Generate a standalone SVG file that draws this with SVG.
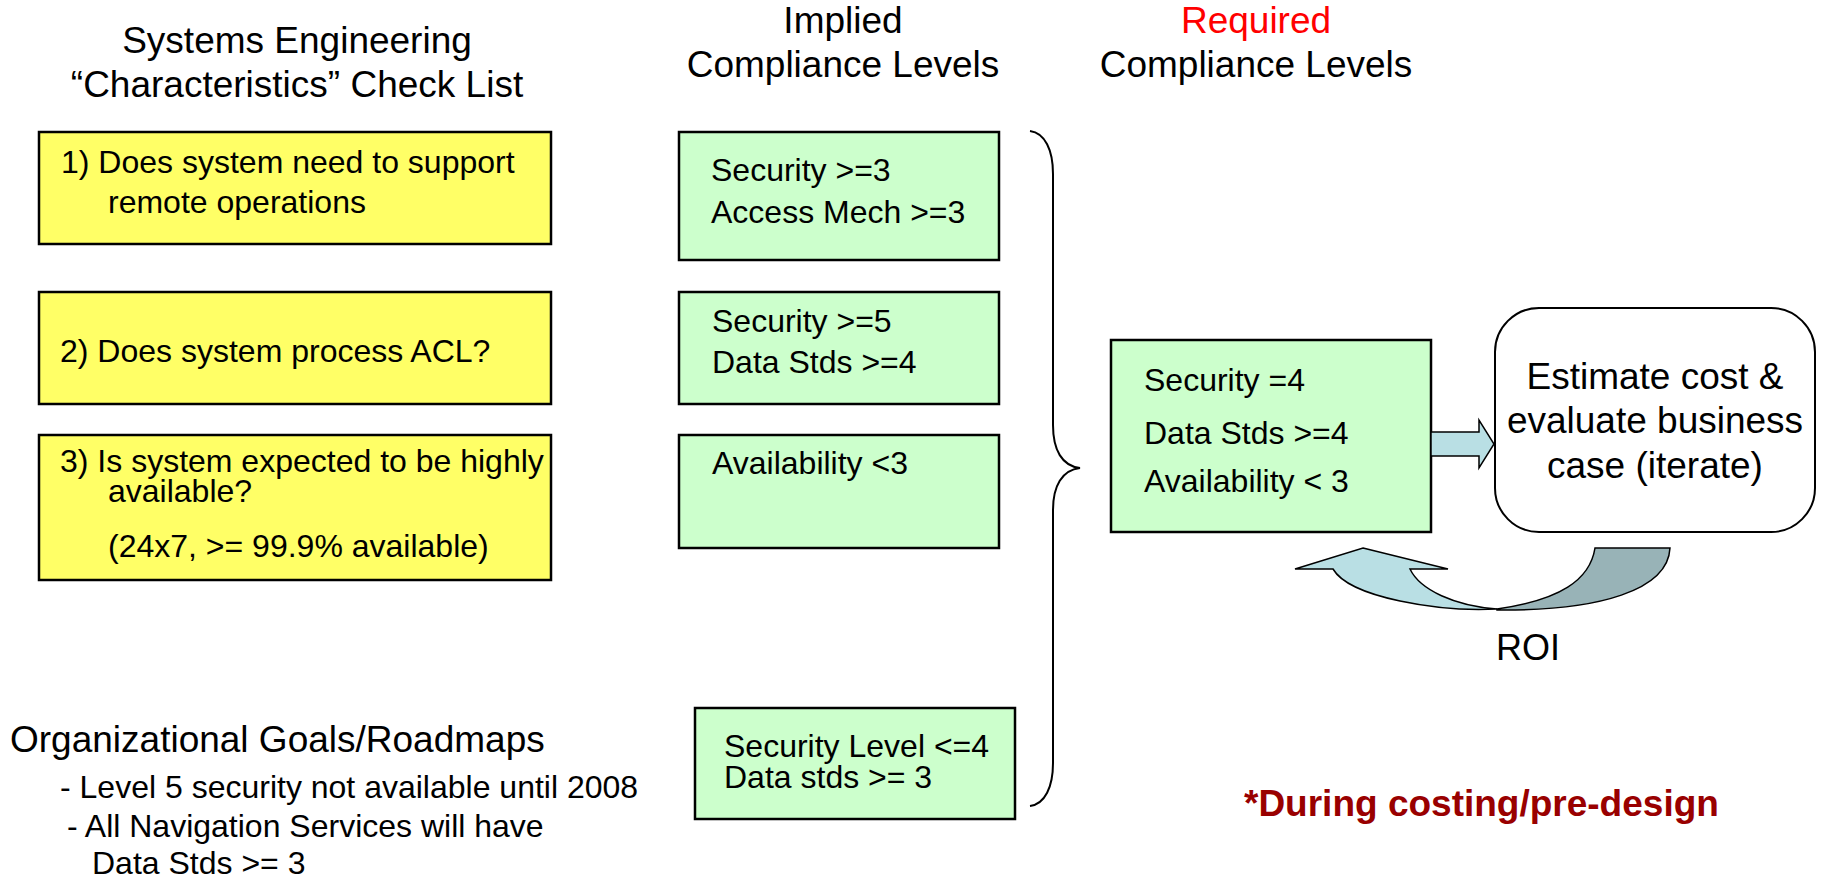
<svg xmlns="http://www.w3.org/2000/svg" width="1826" height="880" viewBox="0 0 1826 880">
<style>
text{font-family:"Liberation Sans",Arial,sans-serif;fill:#000}
.t37{font-size:37px}
.t32{font-size:32px}
.mid{text-anchor:middle}
.yel{fill:#ffff66;stroke:#000;stroke-width:2.5}
.grn{fill:#ccffcc;stroke:#000;stroke-width:2.5}
.line{fill:none;stroke:#000;stroke-width:2}
</style>
<rect width="1826" height="880" fill="#fff"/>
<g id="titles">
<text class="t37 mid" x="297" y="53">Systems Engineering</text>
<text class="t37 mid" x="297" y="97">“Characteristics” Check List</text>
<text class="t37 mid" x="843" y="33">Implied</text>
<text class="t37 mid" x="843" y="77">Compliance Levels</text>
<text class="t37 mid" x="1256" y="33" style="fill:#ff0000">Required</text>
<text class="t37 mid" x="1256" y="77">Compliance Levels</text>
</g>
<g id="q1">
<rect class="yel" x="39" y="132" width="512" height="112"/>
<text class="t32" x="61" y="173">1) Does system need to support</text>
<text class="t32" x="108" y="213">remote operations</text>
</g>
<g id="q2">
<rect class="yel" x="39" y="292" width="512" height="112"/>
<text class="t32" x="60" y="362">2) Does system process ACL?</text>
</g>
<g id="q3">
<rect class="yel" x="39" y="435" width="512" height="145"/>
<text class="t32" x="60" y="472">3) Is system expected to be highly</text>
<text class="t32" x="108" y="502">available?</text>
<text class="t32" x="108" y="557">(24x7, &gt;= 99.9% available)</text>
</g>
<g id="imp1">
<rect class="grn" x="679" y="132" width="320" height="128"/>
<text class="t32" x="711" y="181">Security &gt;=3</text>
<text class="t32" x="711" y="223">Access Mech &gt;=3</text>
</g>
<g id="imp2">
<rect class="grn" x="679" y="292" width="320" height="112"/>
<text class="t32" x="712" y="332">Security &gt;=5</text>
<text class="t32" x="712" y="373">Data Stds &gt;=4</text>
</g>
<g id="imp3">
<rect class="grn" x="679" y="435" width="320" height="113"/>
<text class="t32" x="712" y="474">Availability &lt;3</text>
</g>
<g id="imp4">
<rect class="grn" x="695" y="708" width="320" height="111"/>
<text class="t32" x="724" y="757">Security Level &lt;=4</text>
<text class="t32" x="724" y="788">Data stds &gt;= 3</text>
</g>
<g id="goals">
<text class="t37" x="10" y="752">Organizational Goals/Roadmaps</text>
<text class="t32" x="60" y="798">- Level 5 security not available until 2008</text>
<text class="t32" x="67" y="837">- All Navigation Services will have</text>
<text class="t32" x="92" y="874">Data Stds &gt;= 3</text>
</g>
<g id="required">
<rect class="grn" x="1111" y="340" width="320" height="192"/>
<text class="t32" x="1144" y="391">Security =4</text>
<text class="t32" x="1144" y="444">Data Stds &gt;=4</text>
<text class="t32" x="1144" y="492">Availability &lt; 3</text>
</g>
<g id="estimate">
<rect x="1495" y="308" width="320" height="224" rx="44" ry="44" fill="#fff" stroke="#000" stroke-width="2"/>
<text class="t37 mid" x="1655" y="389">Estimate cost &amp;</text>
<text class="t37 mid" x="1655" y="433">evaluate business</text>
<text class="t37 mid" x="1655" y="478">case (iterate)</text>
</g>
<g id="connectors">
<path class="line" d="M1030,131 C1045,133 1053,150 1053,174 L1053,425 C1053,450 1062,466 1080,468 C1062,470 1053,486 1053,510 L1053,763 C1053,787 1045,804 1030,806"/>
<path d="M1431,432 L1479,432 L1479,420 L1494,444 L1479,468 L1479,456 L1431,456 Z" fill="#b9dfe4" stroke="#000" stroke-width="1.5"/>
<path d="M1497,609 C1560,600 1590,580 1595,548 L1670,548 C1668,590 1600,611 1497,610 Z" fill="#98b3b7" stroke="#000" stroke-width="1.5"/>
<path d="M1363,548 L1448,569 L1410,569 C1420,590 1455,606 1497,609 C1440,612 1350,598 1333,569 L1295,569 Z" fill="#b9dfe4" stroke="#000" stroke-width="1.5"/>
</g>
<g id="roi">
<text class="mid" x="1528" y="660" style="font-size:36px">ROI</text>
</g>
<g id="note">
<text x="1244" y="816" style="font-size:37px;font-weight:bold;fill:#990000">*During costing/pre-design</text>
</g>
</svg>
